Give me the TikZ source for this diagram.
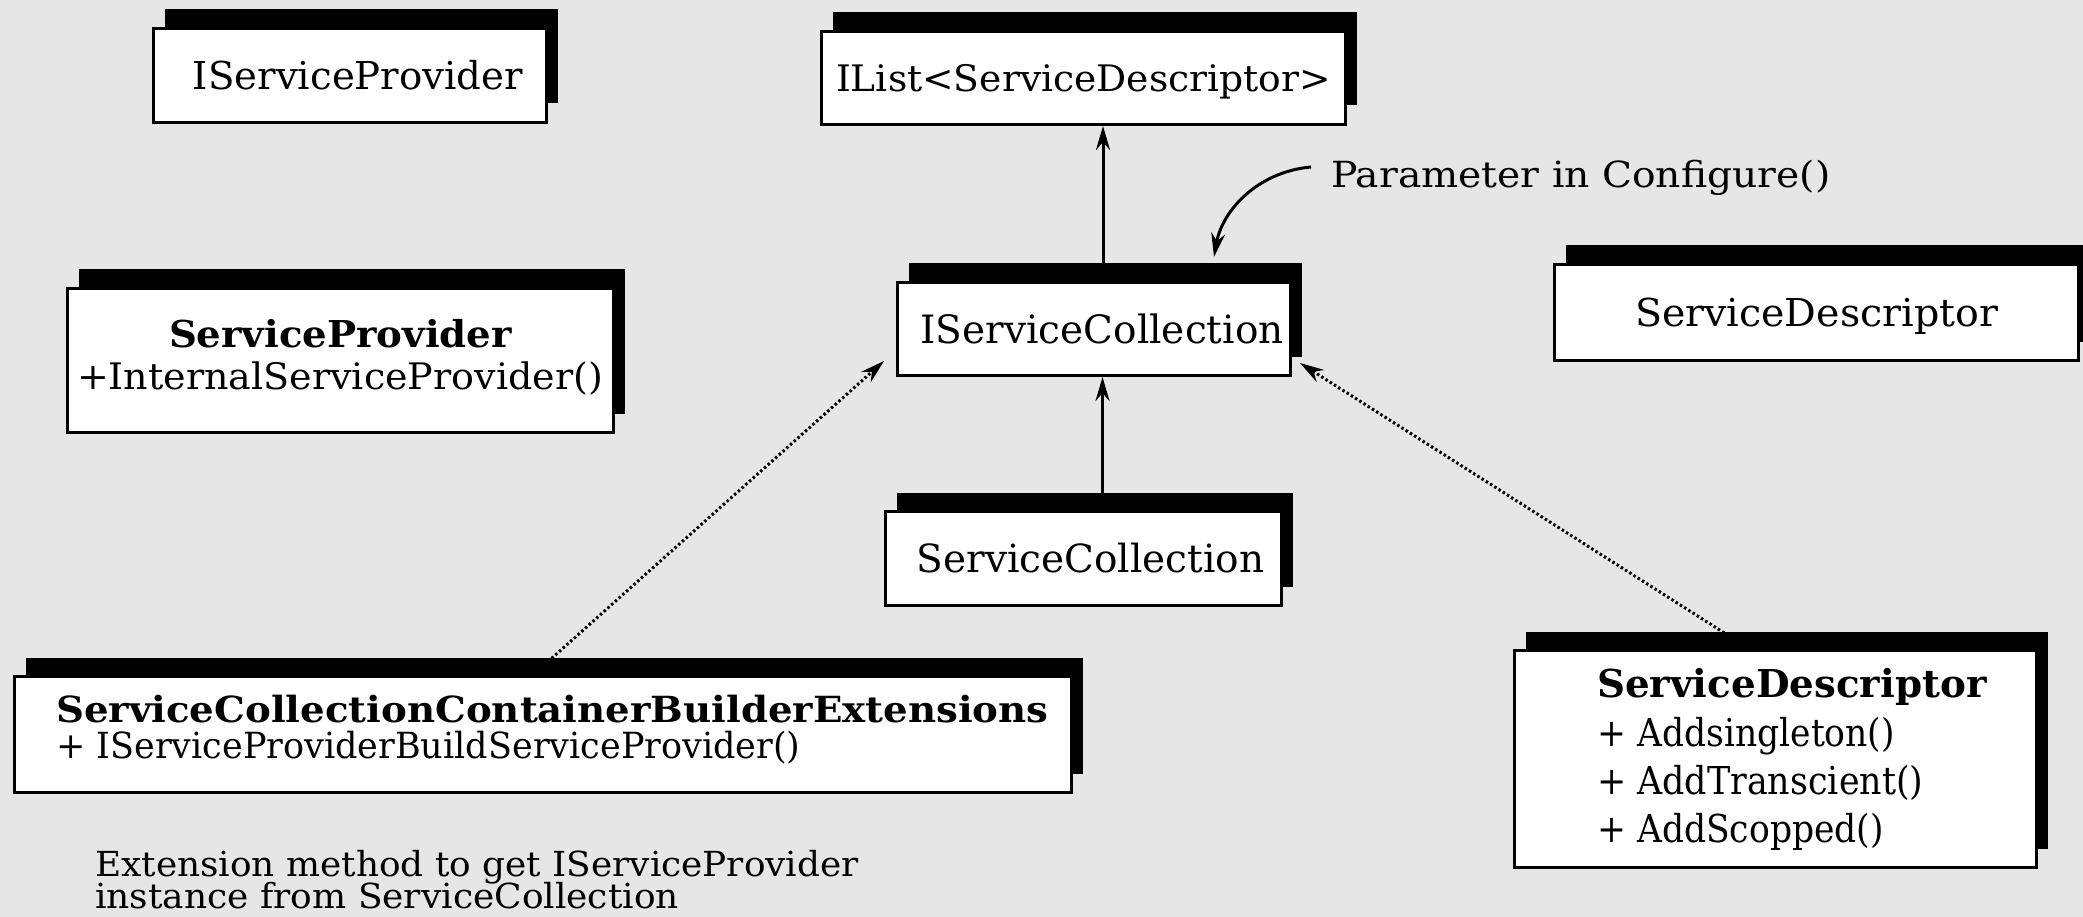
\documentclass[tikz,border=0pt]{standalone}
\usepackage{fontspec}
\usepackage{graphicx}
\setmainfont{DejaVu Serif}
\usetikzlibrary{arrows.meta,shadows,backgrounds,calc}
\definecolor{canvas}{HTML}{E6E6E6}
% text at a given size (pt) and horizontal scale
\newcommand\sizedtext[3]{{\fontsize{#1}{#1}\selectfont\scalebox{#2}[1]{#3}}}

\begin{document}
\begin{tikzpicture}[x=1pt,y=-1pt,
  every node/.style={inner sep=0pt},
  classbox/.style={draw=black, line width=3pt, fill=white,
    text height=28pt, text depth=0pt,
    drop shadow={shadow xshift=11.5pt, shadow yshift=19pt, opacity=1, fill=black}},
  member/.style={anchor=base west},
  tip/.style={-{Stealth[length=24pt,width=14pt]}},
  assoc/.style={line width=3pt, tip},
  realizes/.style={line width=3pt, dash pattern=on 2.5pt off 2.5pt, tip},
]
\useasboundingbox (0,0) rectangle (2083,917);

% class boxes
\node[classbox, minimum width=393pt, minimum height=94pt]  (isp)   at (350,75.5)    {\hspace*{16pt}\sizedtext{38.4}{1.007}{IServiceProvider}};
\node[classbox, minimum width=546pt, minimum height=144pt] (sp)    at (340.5,360.5) {};
\node[classbox, minimum width=524pt, minimum height=93pt]  (ilist) at (1083.5,78)   {\sizedtext{36.5}{1.031}{IList<ServiceDescriptor>}};
\node[classbox, minimum width=393pt, minimum height=93pt]  (isc)   at (1094,329)    {\hspace*{16pt}\sizedtext{39}{1.0}{IServiceCollection}};
\node[classbox, minimum width=396pt, minimum height=94pt]  (scol)  at (1083.5,558.5) {\hspace*{14pt}\sizedtext{38.8}{1.005}{ServiceCollection}};
\node[classbox, minimum width=524pt, minimum height=96pt]  (sdesc) at (1816.5,312.5) {\sizedtext{38.4}{1.03}{ServiceDescriptor}};
\node[classbox, minimum width=1057pt, minimum height=116pt] (sccbe) at (543,734.5)  {};
\node[classbox, minimum width=522pt, minimum height=217pt] (sd)    at (1775.5,759)  {};

% class names and members
\node[anchor=base] (sp-name) at (340.5,347) {\sizedtext{37}{1.046}{\bfseries ServiceProvider}};
\node[anchor=base] (sp-m1) at (340,389) {\sizedtext{36.5}{1.042}{+InternalServiceProvider()}};

\node[member] (sccbe-name) at (56,722) {\sizedtext{36}{1.075}{\bfseries ServiceCollectionContainerBuilderExtensions}};
\node[member] (sccbe-m1) at (56,758) {\sizedtext{36}{0.972}{+ IServiceProviderBuildServiceProvider()}};

\node[member] (sd-name) at (1597,697) {\sizedtext{38.4}{1.011}{\bfseries ServiceDescriptor}};
\node[member] (sd-m1) at (1597,746) {\sizedtext{38.4}{0.9}{+ Addsingleton()}};
\node[member] (sd-m2) at (1597,794) {\sizedtext{38.4}{0.908}{+ AddTranscient()}};
\node[member] (sd-m3) at (1597,842) {\sizedtext{38.4}{0.9}{+ AddScopped()}};

% free annotations
\node[member] (param) at (1331,188) {\sizedtext{36}{1.09}{Parameter in Configure()}};
\node[member] (note1) at (95,876) {\sizedtext{34.5}{1.04}{Extension method to get IServiceProvider}};
\node[member] (note2) at (95,908) {\sizedtext{34.5}{1.043}{instance from ServiceCollection}};

% connectors run behind the boxes and their shadows
\begin{scope}[on background layer]
  \fill[canvas] (0,0) rectangle (2083,917);
  \draw[assoc] ([xshift=19pt]scol.north) -- ([xshift=19pt]scol.north |- isc.south);
  \draw[assoc] ([xshift=9pt]isc.north) -- ([xshift=9pt]isc.north |- ilist.south);
  \draw[realizes] ([xshift=-10pt]sccbe.north) -- ($(isc.south west)+(-12,-16)$);
  \draw[realizes] ([xshift=-26pt]sd.north) -- ($(isc.south east)+(8,-14)$);
\end{scope}

\draw[assoc] ($(param.base west)+(-20,-21)$) .. controls +(-55,5) and +(8,-45) .. ($(isc.north)+(120,-24)$);
\end{tikzpicture}
\end{document}
